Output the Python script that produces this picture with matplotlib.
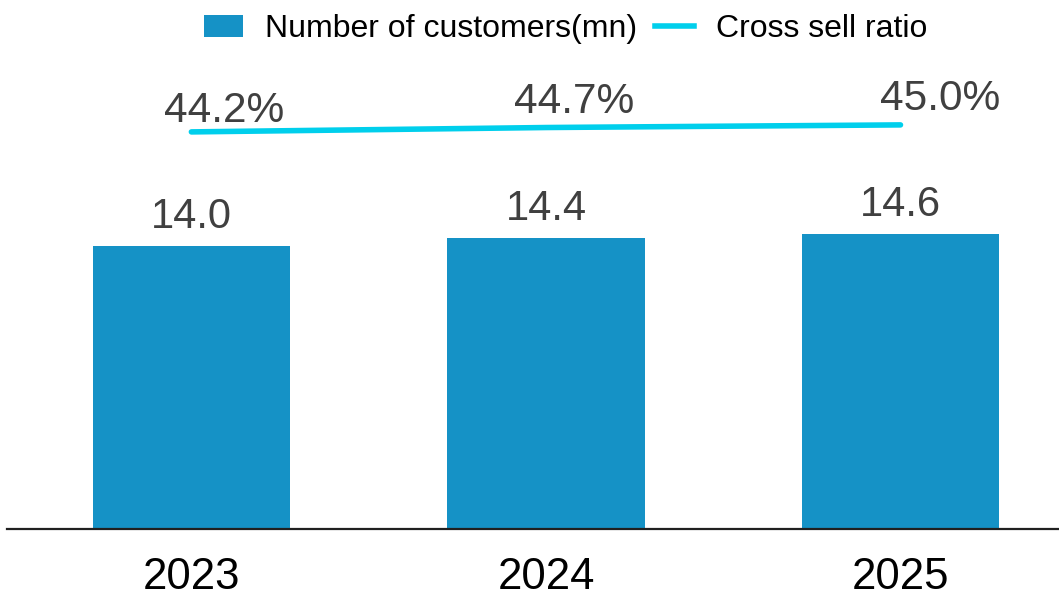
import numpy as np
import matplotlib.pyplot as plt
from matplotlib.patches import Patch
from matplotlib.lines import Line2D

plt.rcParams['font.family'] = ['Liberation Sans', 'DejaVu Sans']

years = ['2023', '2024', '2025']
customers = [14.0, 14.4, 14.6]
cross_sell = [44.2, 44.7, 45.0]

bar_color = '#1592C6'
line_color = '#00CFEC'
label_color = '#404040'

fig = plt.figure(figsize=(10.59, 5.99), dpi=100)
ax = fig.add_axes([7/1059, 70/599, 1052/1059, 489/599])
x = np.arange(len(years))

ax.bar(x, customers, width=0.556, color=bar_color, zorder=2)
ax.set_xlim(-0.52, 2.447)
ax.set_ylim(0, 24.2)
for xi, v in zip(x, customers):
    ax.annotate(f'{v:.1f}', (xi, v), xytext=(0, 13), textcoords='offset points',
                ha='center', va='baseline', fontsize=30, color=label_color)

for s in ['top', 'right', 'left']:
    ax.spines[s].set_visible(False)
ax.spines['bottom'].set_linewidth(1.6)
ax.spines['bottom'].set_color('#202020')
ax.set_yticks([])
ax.set_xticks(x)
ax.set_xticklabels(years, fontsize=31.5, color='black')
ax.tick_params(axis='x', length=0, pad=20)

ax2 = ax.twinx()
ax2.set_ylim(-1.17, 54.7)
ax2.plot(x, cross_sell, color=line_color, lw=4, solid_capstyle='round', zorder=3)
ax2.axis('off')
# label offsets (px -> pt) as placed in the original
dx = [33, 28, 40]
dy = [10, 15, 15]
for xi, v, ox, oy in zip(x, cross_sell, dx, dy):
    ax2.annotate(f'{v:.1f}%', (xi, v), xytext=(ox * 0.72, oy * 0.72), textcoords='offset points',
                 ha='center', va='baseline', fontsize=30.5, color=label_color)

handles = [Patch(facecolor=bar_color, edgecolor='none'),
           Line2D([0], [0], color=line_color, lw=4)]
fig.legend(handles, ['Number of customers(mn)', 'Cross sell ratio'],
           loc='center', bbox_to_anchor=(566/1059, 1 - 29/599), ncol=2,
           frameon=False, fontsize=23, handlelength=1.22, handleheight=0.7,
           handletextpad=0.69, columnspacing=0.56, borderpad=0)

fig.savefig('out.png', dpi=100)
